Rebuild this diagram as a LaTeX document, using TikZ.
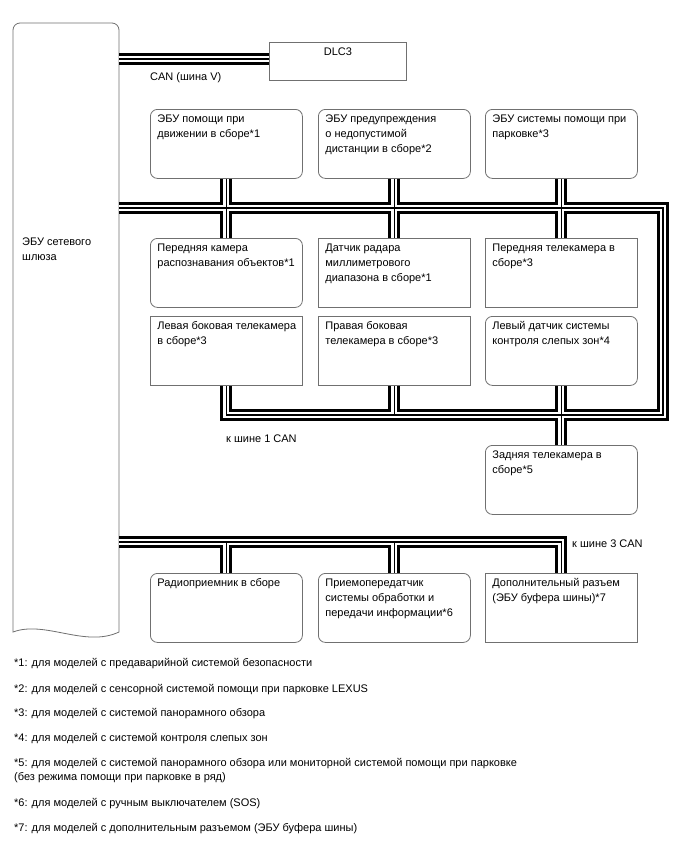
\documentclass[tikz,border=0pt]{standalone}
\usepackage{fontspec}
\setmainfont{Liberation Sans}
\definecolor{edge}{RGB}{112,112,112}
\newcommand\tb[1]{\parbox[t][69pt][t]{152pt}{\leftskip=7pt\rightskip=-30pt plus 1fil\parindent=0pt\vspace*{4pt}\rule{0pt}{9pt}#1\par}}
\newcommand\dlctext[1]{\parbox[t][38pt][t]{137pt}{\centering\vspace*{4pt}\rule{0pt}{9pt}#1\par}}
\begin{document}
\begin{tikzpicture}[x=1pt,y=-1pt,font=\fontsize{11}{15}\selectfont,
  boxr/.style={draw=edge,line width=0.8pt,rounded corners=7pt,anchor=north west,inner sep=0pt},
  boxs/.style={draw=edge,line width=0.8pt,anchor=north west,inner sep=0pt},
  busA/.style={line width=12pt,black},
  busB/.style={line width=6pt,white},
  busC/.style={line width=1.2pt,black},
  lbl/.style={anchor=base west,inner sep=0pt}]
\fill[white] (0,0) rectangle (688,852);
\useasboundingbox (0,0) rectangle (688,852);

% gateway ECU
\draw[edge,line width=0.8pt] (13,632) -- (13,30) arc[start angle=180,end angle=270,radius=7]
  -- (112,23) arc[start angle=270,end angle=360,radius=7] -- (119,632)
  .. controls (85,648) and (45,620) .. (13,632) -- cycle;
\node[anchor=north west,inner sep=0pt,align=left] (gw) at (22,238) {ЭБУ сетевого\\шлюза};

% DLC3
\node[boxs] (dlc) at (269,42) {\dlctext{DLC3}};

% row 1
\node[boxr] (r1a) at (150,109) {\tb{ЭБУ помощи при\\движении в сборе*1}};
\node[boxr] (r1b) at (318,109) {\tb{ЭБУ предупреждения\\о недопустимой\\дистанции в сборе*2}};
\node[boxr] (r1c) at (485,109) {\tb{ЭБУ системы помощи при\\парковке*3}};
% row 2
\node[boxr] (r2a) at (150,238) {\tb{Передняя камера\\распознавания объектов*1}};
\node[boxs] (r2b) at (318,238) {\tb{Датчик радара\\миллиметрового\\диапазона в сборе*1}};
\node[boxs] (r2c) at (485,238) {\tb{Передняя телекамера в\\сборе*3}};
% row 3
\node[boxs] (r3a) at (150,316) {\tb{Левая боковая телекамера\\в сборе*3}};
\node[boxs] (r3b) at (318,316) {\tb{Правая боковая\\телекамера в сборе*3}};
\node[boxr] (r3c) at (485,316) {\tb{Левый датчик системы\\контроля слепых зон*4}};
% rear camera
\node[boxr] (rear) at (485,445) {\tb{Задняя телекамера в\\сборе*5}};
% row 4
\node[boxr] (r4a) at (150,573) {\tb{Радиоприемник в сборе}};
\node[boxr] (r4b) at (318,573) {\tb{Приемопередатчик\\системы обработки и\\передачи информации*6}};
\node[boxs] (r4c) at (485,573) {\tb{Дополнительный разъем\\(ЭБУ буфера шины)*7}};

% bus coordinates
\coordinate (gwV) at (119,59);
\coordinate (gw1) at (119,208);
\coordinate (b1e) at (663,208);
\coordinate (b1s) at (663,415);
\coordinate (gw3) at (119,542);

\newcommand\allbus[1]{%
  \draw[#1] (gwV) -- (dlc.west |- gwV);
  \draw[#1] (gw1) -- (b1e) -- (b1s) -- (r3a.south |- b1s) -- (r3a.south);
  \draw[#1] (r1a.south) -- (r2a.north);
  \draw[#1] (r1b.south) -- (r2b.north);
  \draw[#1] (r1c.south) -- (r2c.north);
  \draw[#1] (r3b.south) -- (r3b.south |- b1s);
  \draw[#1] (r3c.south) -- (rear.north);
  \draw[#1] (gw3) -- (r4c.north |- gw3) -- (r4c.north);
  \draw[#1] (r4a.north |- gw3) -- (r4a.north);
  \draw[#1] (r4b.north |- gw3) -- (r4b.north);
}
\allbus{busA}
\allbus{busB}
\allbus{busC}

% labels
\node[lbl] (canv) at (150,80) {CAN (шина V)};
\node[lbl] (k1) at (226,442) {к шине 1 CAN};
\node[lbl] (k3) at (572,547) {к шине 3 CAN};

% footnotes
\node[lbl] (f1) at (14,666) {*1: для моделей с предаварийной системой безопасности};
\node[lbl] (f2) at (14,692) {*2: для моделей с сенсорной системой помощи при парковке LEXUS};
\node[lbl] (f3) at (14,716) {*3: для моделей с системой панорамного обзора};
\node[lbl] (f4) at (14,741) {*4: для моделей с системой контроля слепых зон};
\node[anchor=north west,inner sep=0pt,align=left,font=\fontsize{11}{14}\selectfont] (f5) at (14,758)
  {*5: для моделей с системой панорамного обзора или мониторной системой помощи при парковке\\(без режима помощи при парковке в ряд)};
\node[lbl] (f6) at (14,806) {*6: для моделей с ручным выключателем (SOS)};
\node[lbl] (f7) at (14,831) {*7: для моделей с дополнительным разъемом (ЭБУ буфера шины)};
\end{tikzpicture}
\end{document}
